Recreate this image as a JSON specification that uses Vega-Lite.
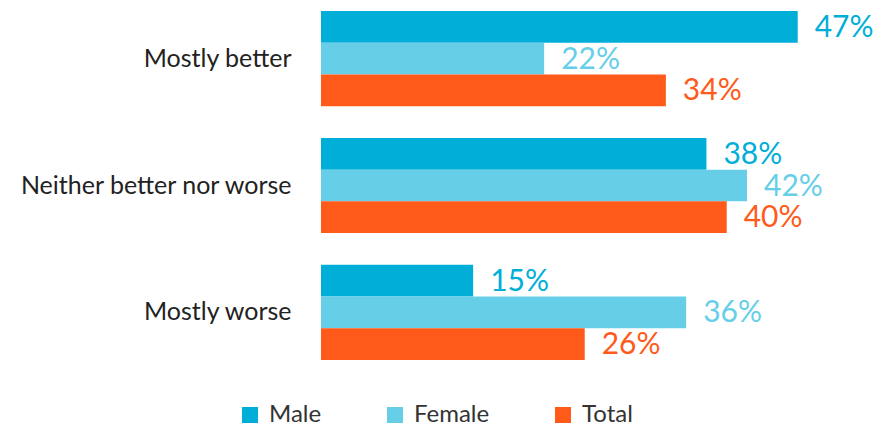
{
  "$schema": "https://vega.github.io/schema/vega-lite/v6.json",
  "width": 568,
  "height": 349,
  "autosize": {"type": "none"},
  "padding": {"left": 321, "top": 11, "right": 5, "bottom": 66},
  "config": {"view": {"stroke": null}, "font": "Lato"},
  "data": {
    "values": [
      {"answer": "Mostly better", "group": "Male", "value": 0.47},
      {"answer": "Mostly better", "group": "Female", "value": 0.22},
      {"answer": "Mostly better", "group": "Total", "value": 0.34},
      {"answer": "Neither better nor worse", "group": "Male", "value": 0.38},
      {"answer": "Neither better nor worse", "group": "Female", "value": 0.42},
      {"answer": "Neither better nor worse", "group": "Total", "value": 0.40},
      {"answer": "Mostly worse", "group": "Male", "value": 0.15},
      {"answer": "Mostly worse", "group": "Female", "value": 0.36},
      {"answer": "Mostly worse", "group": "Total", "value": 0.26}
    ]
  },
  "encoding": {
    "y": {
      "field": "answer", "type": "nominal",
      "sort": ["Mostly better", "Neither better nor worse", "Mostly worse"],
      "scale": {"paddingInner": 0.25, "paddingOuter": 0},
      "axis": {"title": null, "domain": false, "ticks": false, "labelFontSize": 25, "labelColor": "#222222", "labelPadding": 30, "labelFont": "Lato", "labelLimit": 0}
    },
    "yOffset": {
      "field": "group", "type": "nominal",
      "sort": ["Male", "Female", "Total"],
      "scale": {"paddingInner": 0, "paddingOuter": 0}
    },
    "x": {
      "field": "value", "type": "quantitative",
      "scale": {"domain": [0, 0.56], "nice": false},
      "axis": null
    },
    "color": {
      "field": "group", "type": "nominal",
      "sort": ["Male", "Female", "Total"],
      "scale": {"domain": ["Male", "Female", "Total"], "range": ["#00AED8", "#66CFE7", "#FF5A1A"]},
      "legend": {
        "title": null, "orient": "none", "direction": "horizontal",
        "legendX": -83, "legendY": 392,
        "symbolType": "square", "symbolSize": 256, "symbolStrokeWidth": 0,
        "labelFontSize": 24, "labelColor": "#333333", "labelFont": "Lato",
        "columnPadding": 61, "labelOffset": 7
      }
    }
  },
  "layer": [
    {"mark": {"type": "bar", "cornerRadius": 0}},
    {
      "mark": {"type": "text", "align": "left", "baseline": "middle", "dx": 17, "dy": 1, "fontSize": 30},
      "encoding": {"text": {"field": "value", "type": "quantitative", "format": ".0%"}}
    }
  ]
}
